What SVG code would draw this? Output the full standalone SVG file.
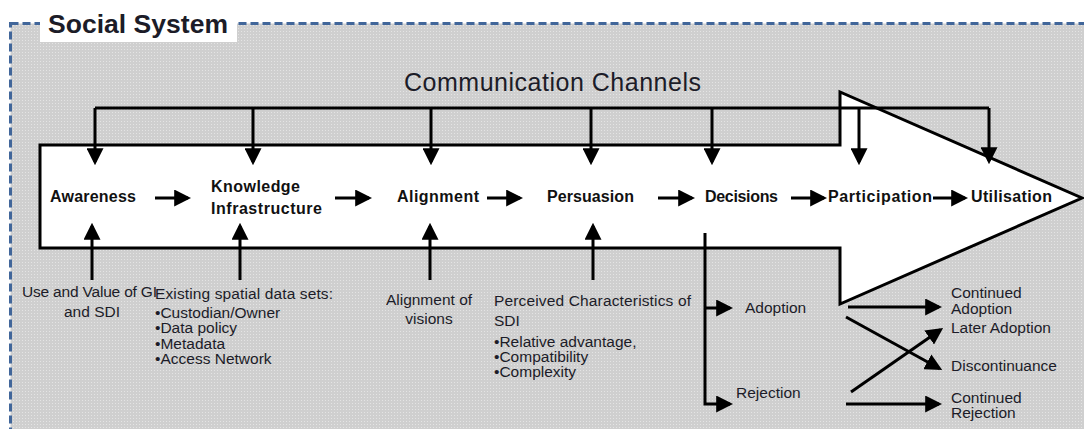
<svg xmlns="http://www.w3.org/2000/svg" width="1084" height="429" viewBox="0 0 1084 429">
<style>
.lbl{font-family:"Liberation Sans",Arial,sans-serif;fill:#1c1c28}
.stage{font-size:16px;font-weight:bold;fill:#111}
.small{font-size:15.5px}
.conn{fill:none;stroke:#000;stroke-width:3}
</style>
<defs>
<pattern id="dots" width="3" height="3" patternUnits="userSpaceOnUse">
<rect width="3" height="3" fill="#cfcfcf"/>
<rect x="1" y="1" width="1" height="1" fill="#e4e4e4"/>
</pattern>
<marker id="ah" markerUnits="userSpaceOnUse" markerWidth="17" markerHeight="17" viewBox="0 0 16 16" refX="13" refY="8" orient="auto">
<path d="M0,0 L16,8 L0,16 z" fill="#000"/>
</marker>
</defs>
<rect width="1084" height="429" fill="#fff"/>
<g id="social-system">
<rect x="10.5" y="23.5" width="1100" height="450" fill="url(#dots)" stroke="#41669a" stroke-width="3" stroke-dasharray="8 4"/>
<rect x="40" y="0" width="197" height="42" fill="#fff"/>
<text class="lbl" x="48" y="33" font-size="26.5" font-weight="bold" fill="#000" textLength="180">Social System</text>
</g>
<g id="big-arrow">
<polygon points="40,145 840,145 840,92 1082,198 840,304 840,248 40,248" fill="#fff" stroke="#000" stroke-width="3" stroke-linejoin="miter"/>
</g>
<g id="communication-channels">
<text class="lbl" x="404" y="91" font-size="25" textLength="297">Communication Channels</text>
</g>
<g id="awareness"><text class="lbl stage" x="50" y="202" textLength="86">Awareness</text></g>
<g id="knowledge-infrastructure">
<text class="lbl stage" x="211" y="192" textLength="89">Knowledge</text>
<text class="lbl stage" x="211" y="214" textLength="111">Infrastructure</text>
</g>
<g id="alignment"><text class="lbl stage" x="397" y="202" textLength="82">Alignment</text></g>
<g id="persuasion"><text class="lbl stage" x="547" y="202" textLength="87">Persuasion</text></g>
<g id="decisions"><text class="lbl stage" x="705" y="202" textLength="73">Decisions</text></g>
<g id="participation"><text class="lbl stage" x="828" y="202" textLength="104">Participation</text></g>
<g id="utilisation"><text class="lbl stage" x="971" y="202" textLength="81">Utilisation</text></g>
<g id="use-value">
<text class="lbl small" x="22" y="297" textLength="135">Use and Value of GI</text>
<text class="lbl small" x="92" y="317" text-anchor="middle">and SDI</text>
</g>
<g id="existing-datasets">
<text class="lbl small" x="155" y="299" textLength="178">Existing spatial data sets:</text>
<text class="lbl small" x="155" y="318">•Custodian/Owner</text>
<text class="lbl small" x="155" y="333">•Data policy</text>
<text class="lbl small" x="155" y="349">•Metadata</text>
<text class="lbl small" x="155" y="364">•Access Network</text>
</g>
<g id="alignment-visions">
<text class="lbl small" x="429" y="305" text-anchor="middle">Alignment of</text>
<text class="lbl small" x="429" y="324" text-anchor="middle">visions</text>
</g>
<g id="perceived-characteristics">
<text class="lbl small" x="494" y="306" textLength="197">Perceived Characteristics of</text>
<text class="lbl small" x="494" y="326">SDI</text>
<text class="lbl small" x="494" y="347">•Relative advantage,</text>
<text class="lbl small" x="494" y="362">•Compatibility</text>
<text class="lbl small" x="494" y="377">•Complexity</text>
</g>
<g id="adoption"><text class="lbl small" x="745" y="313">Adoption</text></g>
<g id="rejection"><text class="lbl small" x="736" y="398">Rejection</text></g>
<g id="continued-adoption">
<text class="lbl small" x="951" y="298">Continued</text>
<text class="lbl small" x="951" y="314">Adoption</text>
</g>
<g id="later-adoption"><text class="lbl small" x="951" y="333">Later Adoption</text></g>
<g id="discontinuance"><text class="lbl small" x="951" y="371">Discontinuance</text></g>
<g id="continued-rejection">
<text class="lbl small" x="951" y="403">Continued</text>
<text class="lbl small" x="951" y="418">Rejection</text>
</g>
<g id="connectors" class="conn">
<path d="M95,108 H989"/>
<path d="M95,108 V162" marker-end="url(#ah)"/>
<path d="M253,108 V162" marker-end="url(#ah)"/>
<path d="M431,108 V162" marker-end="url(#ah)"/>
<path d="M591,108 V162" marker-end="url(#ah)"/>
<path d="M712,108 V162" marker-end="url(#ah)"/>
<path d="M859,108 V162" marker-end="url(#ah)"/>
<path d="M989,108 V161" marker-end="url(#ah)"/>
<path d="M155,198 H188" marker-end="url(#ah)"/>
<path d="M335,198 H369" marker-end="url(#ah)"/>
<path d="M487,198 H520" marker-end="url(#ah)"/>
<path d="M658,198 H692" marker-end="url(#ah)"/>
<path d="M791,198 H824" marker-end="url(#ah)"/>
<path d="M933,198 H965" marker-end="url(#ah)"/>
<path d="M92,280 V226" marker-end="url(#ah)"/>
<path d="M240,280 V226" marker-end="url(#ah)"/>
<path d="M430,280 V226" marker-end="url(#ah)"/>
<path d="M593,280 V226" marker-end="url(#ah)"/>
<path d="M705,233 V404 H730" marker-end="url(#ah)"/>
<path d="M705,308 H730" marker-end="url(#ah)"/>
<path d="M848,307 H939" marker-end="url(#ah)"/>
<path d="M846,317 L939.4,368.5" marker-end="url(#ah)"/>
<path d="M851,392 L940.5,329.7" marker-end="url(#ah)"/>
<path d="M846,404 H939" marker-end="url(#ah)"/>
</g>
</svg>
